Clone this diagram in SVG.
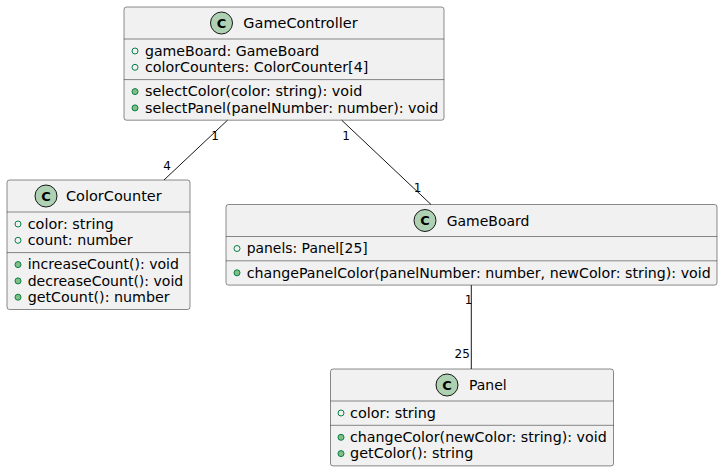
<svg xmlns="http://www.w3.org/2000/svg" width="723" height="471" viewBox="0 0 723 471">
<style>
.box{fill:#F1F1F1;stroke:#181818;stroke-width:0.5}
.div{stroke:#181818;stroke-width:0.5}
.cls{fill:#ADD1B2;stroke:#181818;stroke-width:1}
.cg{font-family:"DejaVu Sans",sans-serif;font-size:13px;font-weight:bold;fill:#000;text-anchor:middle}
.name{font-family:"DejaVu Sans",sans-serif;font-size:14.5px;fill:#000}
.mem{font-family:"DejaVu Sans",sans-serif;font-size:14.5px;fill:#000}
.fld{fill:none;stroke:#038048;stroke-width:1}
.mth{fill:#84BE84;stroke:#038048;stroke-width:1}
.lnk{stroke:#181818;stroke-width:1;fill:none}
.lbl{font-family:"DejaVu Sans",sans-serif;font-size:12px;fill:#000}
</style>
<rect width="723" height="471" fill="#FFFFFF"/>
<g id="GameController">
<rect class="box" x="124" y="7" width="320" height="113.2" rx="2.5" ry="2.5"/>
<ellipse class="cls" cx="221.5" cy="23" rx="11" ry="11"/>
<text class="cg" x="221.5" y="27.7">C</text>
<text class="name" x="243.3" y="28.3" textLength="114.3" lengthAdjust="spacingAndGlyphs">GameController</text>
<line class="div" x1="124" y1="39" x2="444" y2="39"/>
<ellipse class="fld" cx="135" cy="51" rx="3" ry="3"/>
<text class="mem" x="145" y="55.8" textLength="174.3" lengthAdjust="spacingAndGlyphs">gameBoard: GameBoard</text>
<ellipse class="fld" cx="135" cy="67.3" rx="3" ry="3"/>
<text class="mem" x="145" y="72.1" textLength="223.3" lengthAdjust="spacingAndGlyphs">colorCounters: ColorCounter[4]</text>
<line class="div" x1="124" y1="79.6" x2="444" y2="79.6"/>
<ellipse class="mth" cx="135" cy="91.6" rx="3" ry="3"/>
<text class="mem" x="145" y="96.4" textLength="217.3" lengthAdjust="spacingAndGlyphs">selectColor(color: string): void</text>
<ellipse class="mth" cx="135" cy="107.9" rx="3" ry="3"/>
<text class="mem" x="145" y="112.7" textLength="293.3" lengthAdjust="spacingAndGlyphs">selectPanel(panelNumber: number): void</text>
</g>
<g id="ColorCounter">
<rect class="box" x="7" y="180" width="183" height="129.5" rx="2.5" ry="2.5"/>
<ellipse class="cls" cx="46" cy="196" rx="11" ry="11"/>
<text class="cg" x="46" y="200.7">C</text>
<text class="name" x="66" y="201.3" textLength="95.7" lengthAdjust="spacingAndGlyphs">ColorCounter</text>
<line class="div" x1="7" y1="212" x2="190" y2="212"/>
<ellipse class="fld" cx="18" cy="224" rx="3" ry="3"/>
<text class="mem" x="27.7" y="228.8" textLength="86" lengthAdjust="spacingAndGlyphs">color: string</text>
<ellipse class="fld" cx="18" cy="240.3" rx="3" ry="3"/>
<text class="mem" x="27.7" y="245.1" textLength="105" lengthAdjust="spacingAndGlyphs">count: number</text>
<line class="div" x1="7" y1="252.6" x2="190" y2="252.6"/>
<ellipse class="mth" cx="18" cy="264.6" rx="3" ry="3"/>
<text class="mem" x="27.7" y="269.4" textLength="151.3" lengthAdjust="spacingAndGlyphs">increaseCount(): void</text>
<ellipse class="mth" cx="18" cy="280.9" rx="3" ry="3"/>
<text class="mem" x="27.7" y="285.7" textLength="155.6" lengthAdjust="spacingAndGlyphs">decreaseCount(): void</text>
<ellipse class="mth" cx="18" cy="297.2" rx="3" ry="3"/>
<text class="mem" x="27.7" y="302" textLength="142" lengthAdjust="spacingAndGlyphs">getCount(): number</text>
</g>
<g id="GameBoard">
<rect class="box" x="226" y="204.5" width="491" height="80.6" rx="2.5" ry="2.5"/>
<ellipse class="cls" cx="425" cy="220.5" rx="11" ry="11"/>
<text class="cg" x="425" y="225.2">C</text>
<text class="name" x="446.7" y="225.8" textLength="82.7" lengthAdjust="spacingAndGlyphs">GameBoard</text>
<line class="div" x1="226" y1="236.5" x2="717" y2="236.5"/>
<ellipse class="fld" cx="237" cy="248.5" rx="3" ry="3"/>
<text class="mem" x="246.7" y="253.3" textLength="121" lengthAdjust="spacingAndGlyphs">panels: Panel[25]</text>
<line class="div" x1="226" y1="260.8" x2="717" y2="260.8"/>
<ellipse class="mth" cx="237" cy="272.8" rx="3" ry="3"/>
<text class="mem" x="246.7" y="277.6" textLength="464" lengthAdjust="spacingAndGlyphs">changePanelColor(panelNumber: number, newColor: string): void</text>
</g>
<g id="Panel">
<rect class="box" x="330.5" y="369" width="283" height="96.9" rx="2.5" ry="2.5"/>
<ellipse class="cls" cx="447" cy="385" rx="11" ry="11"/>
<text class="cg" x="447" y="389.7">C</text>
<text class="name" x="469" y="390.3" textLength="37.7" lengthAdjust="spacingAndGlyphs">Panel</text>
<line class="div" x1="330.5" y1="401" x2="613.5" y2="401"/>
<ellipse class="fld" cx="341" cy="413" rx="3" ry="3"/>
<text class="mem" x="350" y="417.8" textLength="86" lengthAdjust="spacingAndGlyphs">color: string</text>
<line class="div" x1="330.5" y1="425.3" x2="613.5" y2="425.3"/>
<ellipse class="mth" cx="341" cy="437.3" rx="3" ry="3"/>
<text class="mem" x="350" y="442.1" textLength="256.7" lengthAdjust="spacingAndGlyphs">changeColor(newColor: string): void</text>
<ellipse class="mth" cx="341" cy="453.6" rx="3" ry="3"/>
<text class="mem" x="350" y="458.4" textLength="123.3" lengthAdjust="spacingAndGlyphs">getColor(): string</text>
</g>
<g id="connectors">
<line class="lnk" x1="227.5" y1="120.2" x2="164" y2="180"/>
<text class="lbl" x="211.3" y="140">1</text>
<text class="lbl" x="163.3" y="169.5">4</text>
<line class="lnk" x1="341.7" y1="120.2" x2="431" y2="204.5"/>
<text class="lbl" x="342.3" y="140">1</text>
<text class="lbl" x="413.8" y="192">1</text>
<line class="lnk" x1="471.3" y1="285.1" x2="471.3" y2="369"/>
<text class="lbl" x="464.8" y="304">1</text>
<text class="lbl" x="454.5" y="357.5">25</text>
</g>
</svg>
